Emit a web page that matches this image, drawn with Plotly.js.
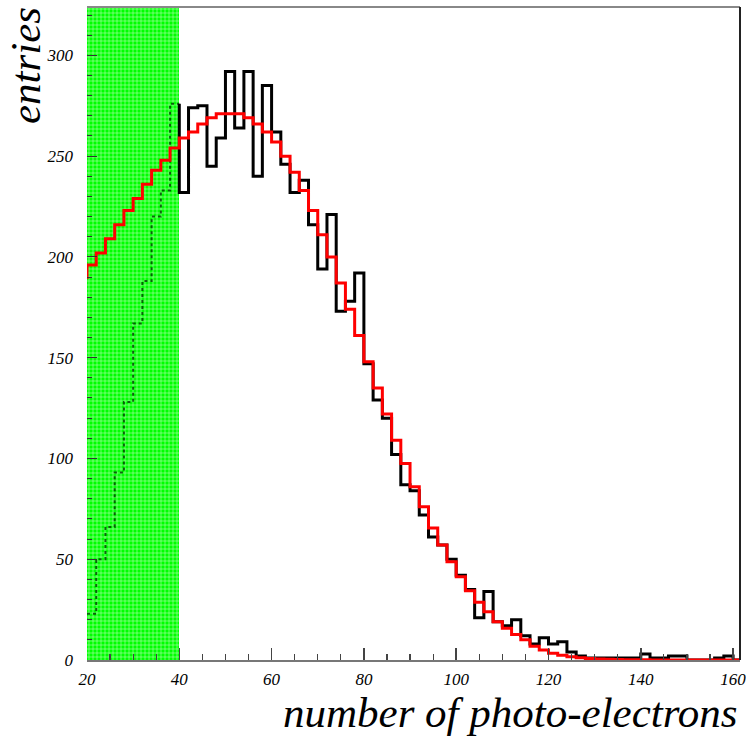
<!DOCTYPE html>
<html>
<head>
<meta charset="utf-8">
<script src="https://cdn.plot.ly/plotly-3.0.1.min.js"></script>
<style>
html,body{margin:0;padding:0;background:#fff;}
#chart{width:746px;height:741px;}
</style>
</head>
<body>
<div id="chart"></div>
<script>
// bin lower edges (bin width 2)
const binLow = [20,22,24,26,28,30,32,34,36,38,40,42,44,46,48,50,52,54,56,58,
  60,62,64,66,68,70,72,74,76,78,80,82,84,86,88,90,92,94,96,98,
  100,102,104,106,108,110,112,114,116,118,120,122,124,126,128,130,132,134,136,138,
  140,142,144,146,148,150,152,154,156,158,160];
const binWidth = 2;
// measured entries (black histogram)
const dataCounts = [23,50,66,93,128,167,188,220,233,276,232,274,275,245,259,292,264,292,240,285,
  262,246,232,238,216,194,221,173,178,192,147,129,120,102,87,84,72,61,57,50,
  42,35,21,34,19,17,20,12,8,11,8,9,4,2,1,1,1,1,1,1,
  3,1,1,2,2,0,0,0,1,2,0];
// fitted expectation (red histogram)
const fitCounts = [196,202,209,216,223,229,236,243,248,254,259,262,266,269,271,271,271,269,266,262,
  257,250,242,233,223,211,200,187,174,161,148,135,122,109,97.5,86,76,65.5,57,48.7,
  41.3,34.4,28.6,24,19,15.7,12.6,10,6.8,4.9,3.4,2.4,1.6,1.1,0.8,0.5,0.35,0.25,0.15,0.1,
  0.07,0.05,0.03,0.02,0.01,0,0,0,0,0,0];
// fit value of the bin just below the axis range (visible as a short stub at the left edge)
const fitUnderflow = 189;
// excluded (shaded) region
const cutRange = [20, 40];
const xRange = [20, 161.5];
const yRange = [0, 324];

function stepXY(xs, ys){
  const X = xs.concat([xs[xs.length-1] + binWidth]);
  const Y = ys.concat([ys[ys.length-1]]);
  return {x: X, y: Y};
}

// split black histogram into shaded (dotted) part and visible part
const kCut = binLow.indexOf(cutRange[1]);
const inX = binLow.slice(0, kCut), inY = dataCounts.slice(0, kCut);
const hidden = stepXY(inX, inY);
const visX = [binLow[kCut]].concat(binLow.slice(kCut));
const visY = [dataCounts[kCut-1]].concat(dataCounts.slice(kCut));
const visible = stepXY(visX, visY);
const fit = stepXY([binLow[0]].concat(binLow), [fitUnderflow].concat(fitCounts));

const traces = [
  {type:'bar', x:[(cutRange[0]+cutRange[1])/2], y:[yRange[1]], width:[cutRange[1]-cutRange[0]],
   marker:{color:'#00ff00', line:{width:0},
     pattern:{shape:'+', bgcolor:'#00ff00', fgcolor:'#ffffff', fgopacity:0.75, size:4, solidity:0.25}},
   hoverinfo:'skip', showlegend:false},
  {type:'scatter', mode:'lines', x:hidden.x, y:hidden.y, line:{shape:'hv', color:'rgba(0,60,0,0.8)', width:2, dash:'dot'},
   hoverinfo:'skip', showlegend:false},
  {type:'scatter', mode:'lines', x:visible.x, y:visible.y, line:{shape:'hv', color:'#000000', width:3},
   hoverinfo:'skip', showlegend:false},
  {type:'scatter', mode:'lines', x:fit.x, y:fit.y, line:{shape:'hv', color:'#ff0000', width:3},
   hoverinfo:'skip', showlegend:false}
];

const tickFont = {family:'"Liberation Serif", "DejaVu Serif", serif', size:17, style:'italic', color:'#000'};
const titleFont = {family:'"Liberation Serif", "DejaVu Serif", serif', size:43, style:'italic', color:'#000'};

const layout = {
  width:746, height:741,
  margin:{l:87, r:6, t:7, b:81},
  paper_bgcolor:'#ffffff', plot_bgcolor:'#ffffff',
  showlegend:false,
  bargap:0,
  xaxis:{range:xRange, dtick:20, tick0:0, ticks:'inside', ticklen:12, tickwidth:1.5, tickcolor:'#444',
    minor:{dtick:5, tick0:0, ticks:'inside', ticklen:6, tickwidth:1.2, tickcolor:'#444'},
    showline:true, linecolor:'#777', linewidth:2, showgrid:false, zeroline:false,
    tickfont:tickFont, ticklabelstandoff:3, ticklabeloverflow:'allow', fixedrange:true},
  yaxis:{range:yRange, dtick:50, tick0:0, ticks:'inside', ticklen:10, tickwidth:1, tickcolor:'#333',
    minor:{dtick:10, tick0:0, ticks:'inside', ticklen:5, tickwidth:1, tickcolor:'#333'},
    showline:false, showgrid:false, zeroline:false,
    tickfont:tickFont, ticklabelstandoff:13, ticklabeloverflow:'allow', fixedrange:true},
  shapes:[
    {type:'line', xref:'paper', yref:'paper', x0:0, x1:1, y0:1, y1:1, line:{color:'#888', width:2}, layer:'above'},
    {type:'line', xref:'paper', yref:'paper', x0:1, x1:1, y0:0, y1:1, line:{color:'#222', width:2}, layer:'above'}
  ],
  annotations:[
    {text:'number of photo-electrons', xref:'paper', yref:'paper', x:1, y:-0.08, xanchor:'right', yanchor:'middle',
     showarrow:false, font:titleFont},
    {text:'entries', xref:'paper', yref:'paper', x:-0.095, y:0.911, xanchor:'center', yanchor:'middle',
     textangle:-90, showarrow:false, font:titleFont}
  ]
};

Plotly.newPlot('chart', traces, layout, {staticPlot:true, displayModeBar:false});
</script>
</body>
</html>
